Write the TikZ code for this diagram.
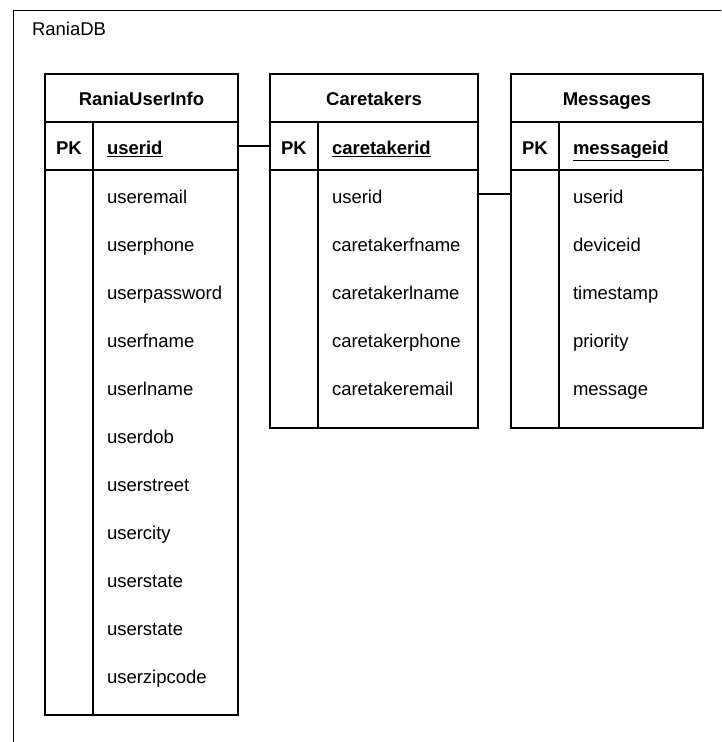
\documentclass[tikz,border=0pt]{standalone}
\usepackage{fontspec}
\setmainfont{Liberation Sans}
\newcommand\keyline[1]{\vtop{\hbox{#1}\kern1.6pt\hrule height 1.5pt}}
\begin{document}
\begin{tikzpicture}[x=1pt,y=-1pt,line width=1.5pt,
  every node/.style={inner sep=0pt,outer sep=0pt,font=\fontsize{18.5}{22}\selectfont},
  hdr/.style={draw,minimum height=48pt,font=\fontsize{18.5}{22}\selectfont\bfseries,
    text height=18pt,text depth=4pt},
  pkkey/.style={draw,minimum width=48pt,minimum height=48pt,
    font=\fontsize{18.5}{22}\selectfont\bfseries,text height=20pt,text depth=4pt},
  pkname/.style={draw,minimum height=48pt,inner xsep=14pt,text width=#1,align=left,
    font=\fontsize{18.5}{22}\selectfont\bfseries,text height=20pt,text depth=4pt},
  field/.style={minimum height=48pt,inner xsep=14pt,text width=#1,align=left,anchor=west,
    text height=22pt,text depth=4pt},
  bodycell/.style={draw,anchor=north west}]
\useasboundingbox (0,0) rectangle (721,742);

% database frame
\draw (13.5,742) -- (13.5,10.5) -- (721,10.5);
\node[anchor=base west] (db) at (32,35) {RaniaDB};

% RaniaUserInfo
\node[hdr,minimum width=193pt] (ui) at (141.5,98) {RaniaUserInfo};
\node[pkkey] (ui-pk) at (69,146) {PK};
\node[pkname=117pt] (ui-id) at (165.5,146) {\keyline{userid}};
\node[bodycell,minimum width=48pt,minimum height=545pt] (ui-kb) at (45,170) {};
\node[bodycell,minimum width=145pt,minimum height=545pt] (ui-nb) at (93,170) {};
\foreach \f [count=\i] in {useremail,userphone,userpassword,userfname,userlname,
  userdob,userstreet,usercity,userstate,userstate,userzipcode}
  \node[field=117pt] (ui-f\i) at (93,{194+48*(\i-1)}) {\f};

% Caretakers
\node[hdr,minimum width=208pt] (ct) at (374,98) {Caretakers};
\node[pkkey] (ct-pk) at (294,146) {PK};
\node[pkname=132pt] (ct-id) at (398,146) {\keyline{caretakerid}};
\node[bodycell,minimum width=48pt,minimum height=258pt] (ct-kb) at (270,170) {};
\node[bodycell,minimum width=160pt,minimum height=258pt] (ct-nb) at (318,170) {};
\foreach \f [count=\i] in {userid,caretakerfname,caretakerlname,caretakerphone,caretakeremail}
  \node[field=132pt] (ct-f\i) at (318,{194+48*(\i-1)}) {\f};

% Messages
\node[hdr,minimum width=192pt] (ms) at (607,98) {Messages};
\node[pkkey] (ms-pk) at (535,146) {PK};
\node[pkname=116pt] (ms-id) at (631,146) {\keyline{messageid}};
\node[bodycell,minimum width=48pt,minimum height=258pt] (ms-kb) at (511,170) {};
\node[bodycell,minimum width=144pt,minimum height=258pt] (ms-nb) at (559,170) {};
\foreach \f [count=\i] in {userid,deviceid,timestamp,priority,message}
  \node[field=116pt] (ms-f\i) at (559,{194+48*(\i-1)}) {\f};

% relations
\draw (ui-id.east) -- (ct-pk.west);
\draw (ct-f1.east) -- (ct-f1.east -| ms-kb.west);
\end{tikzpicture}
\end{document}
